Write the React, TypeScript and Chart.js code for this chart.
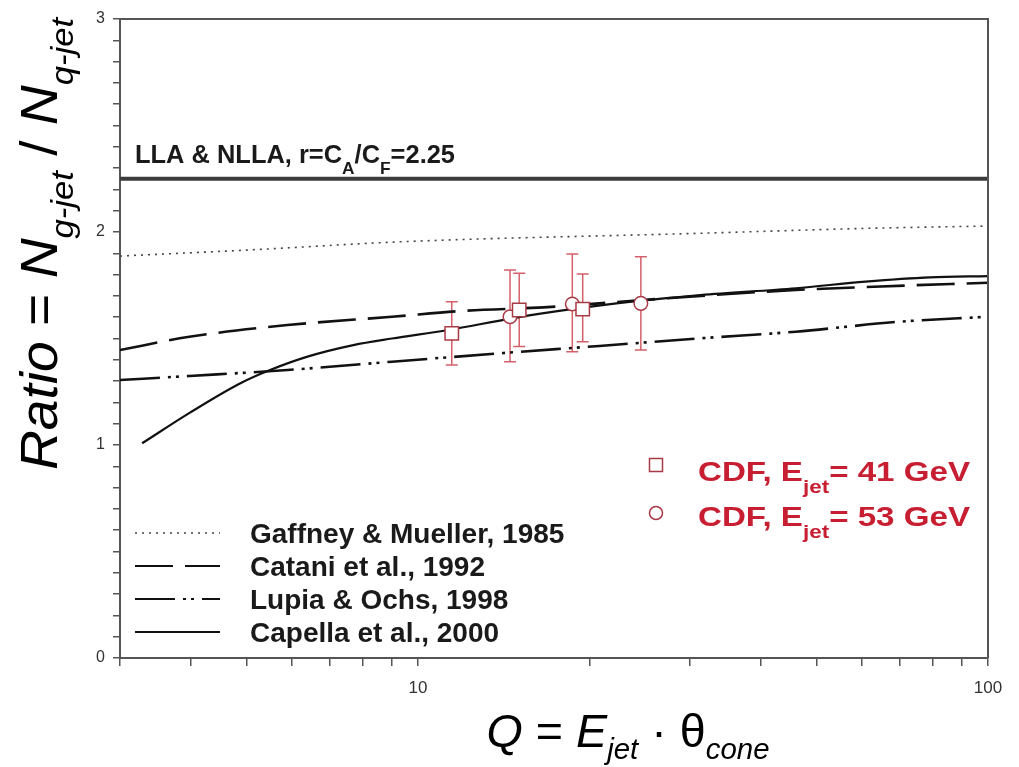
import React, { useEffect, useRef } from "react";
import { Chart, registerables } from "chart.js";
Chart.register(...registerables);

// ---- axis ticks ----
const xTickValues = [3, 4, 5, 6, 7, 8, 9, 10, 20, 30, 40, 50, 60, 70, 80, 90, 100];
const xTickLabels = ["10", "100"];
const yTickLabels = ["0", "1", "2", "3"];

// ---- theory curves (Q, ratio) ----
const llaQ = [3, 100];
const llaR = [2.25, 2.25];

const gaffneyQ = [3, 5, 9.5, 31.3, 61, 100];
const gaffneyR = [1.887, 1.915, 1.955, 1.994, 2.017, 2.028];

const cataniQ = [3, 3.97, 5.9, 9.0, 12.2, 16.6, 20.8, 27.4, 46, 63, 100];
const cataniR = [1.446, 1.508, 1.563, 1.602, 1.631, 1.646, 1.665, 1.689, 1.728, 1.743, 1.762];

const lupiaQ = [3, 3.97, 5.9, 9.0, 14.0, 20.8, 31.3, 46, 70, 100];
const lupiaR = [1.305, 1.324, 1.352, 1.391, 1.431, 1.465, 1.501, 1.532, 1.579, 1.602];

const capellaQ = [3.28, 3.98, 4.88, 5.5, 6.4, 7.7, 9.0, 11.3, 14.7, 18.2, 23.7, 31.3, 46, 61, 79, 100];
const capellaR = [1.008, 1.152, 1.29, 1.352, 1.415, 1.469, 1.5, 1.54, 1.596, 1.634, 1.673, 1.704, 1.736, 1.767, 1.787, 1.793];

const theoryNames = ["Gaffney & Mueller, 1985", "Catani et al., 1992", "Lupia & Ochs, 1998", "Capella et al., 2000"];

// ---- CDF data ----
const cdf41Q = [11.46, 15.05, 19.45];
const cdf41R = [1.524, 1.634, 1.638];
const cdf41Hi = [1.673, 1.806, 1.803];
const cdf41Lo = [1.376, 1.462, 1.485];

const cdf53Q = [14.5, 18.65, 24.6];
const cdf53R = [1.602, 1.662, 1.665];
const cdf53Hi = [1.822, 1.897, 1.884];
const cdf53Lo = [1.391, 1.438, 1.446];

const cdfLabels = ["= 41 GeV", "= 53 GeV"];

const pts = (xs: number[], ys: number[]) => xs.map((x, i) => ({ x, y: ys[i] }));

const FAM = '"Liberation Sans", Arial, Helvetica, sans-serif';
const RED = "#c81e32";
const MARK = "#a83a46";
const BAR = "#d4606a";

type Seg = { t: string; f: string; dy?: number };

function drawRich(ctx: CanvasRenderingContext2D, segs: Seg[], x: number, y: number, align: "left" | "center", width?: number) {
  const widths = segs.map((s) => {
    ctx.font = s.f;
    return ctx.measureText(s.t).width;
  });
  const total = widths.reduce((a, b) => a + b, 0);
  const sx = width ? width / total : 1;
  ctx.save();
  ctx.translate(x, y);
  ctx.scale(sx, 1);
  ctx.textBaseline = "alphabetic";
  ctx.textAlign = "left";
  let cx = align === "center" ? -total / 2 : 0;
  segs.forEach((s, i) => {
    ctx.font = s.f;
    ctx.fillText(s.t, cx, s.dy || 0);
    cx += widths[i];
  });
  ctx.restore();
}

const errorBarPlugin = {
  id: "errorBars",
  beforeDatasetsDraw(chart: any) {
    const ctx = chart.ctx as CanvasRenderingContext2D;
    const xs = chart.scales.x;
    const ys = chart.scales.y;
    const sets = [
      [cdf41Q, cdf41Lo, cdf41Hi],
      [cdf53Q, cdf53Lo, cdf53Hi],
    ];
    ctx.save();
    ctx.strokeStyle = BAR;
    ctx.lineWidth = 1.5;
    sets.forEach(([q, lo, hi]) => {
      q.forEach((qv, i) => {
        const px = xs.getPixelForValue(qv);
        const p1 = ys.getPixelForValue(lo[i]);
        const p2 = ys.getPixelForValue(hi[i]);
        ctx.beginPath();
        ctx.moveTo(px, p1);
        ctx.lineTo(px, p2);
        ctx.moveTo(px - 6, p1);
        ctx.lineTo(px + 6, p1);
        ctx.moveTo(px - 6, p2);
        ctx.lineTo(px + 6, p2);
        ctx.stroke();
      });
    });
    ctx.restore();
  },
};

const decorPlugin = {
  id: "decor",
  afterDraw(chart: any) {
    const ctx = chart.ctx as CanvasRenderingContext2D;
    const { left, right, top, bottom } = chart.chartArea;
    ctx.save();
    // frame
    ctx.strokeStyle = "#555";
    ctx.lineWidth = 2;
    ctx.beginPath();
    ctx.moveTo(left, top);
    ctx.lineTo(right, top);
    ctx.lineTo(right, bottom);
    ctx.stroke();

    // LLA label
    ctx.fillStyle = "#1a1a1a";
    const B25 = `bold 25px ${FAM}`;
    const B17 = `bold 17px ${FAM}`;
    drawRich(ctx, [
      { t: "LLA & NLLA, r=C", f: B25 },
      { t: "A", f: B17, dy: 11 },
      { t: "/C", f: B25 },
      { t: "F", f: B17, dy: 11 },
      { t: "=2.25", f: B25 },
    ], 135, 163, "left", 320);

    // theory legend
    const theoryIdx = [1, 2, 3, 4];
    const B28 = `bold 28px ${FAM}`;
    theoryNames.forEach((name, i) => {
      const ds = chart.data.datasets[theoryIdx[i]];
      const base = 543 + i * 33;
      const ly = base - 10;
      ctx.save();
      ctx.strokeStyle = ds.borderColor;
      ctx.lineWidth = Math.min(ds.borderWidth, 2);
      ctx.setLineDash(ds.borderDash || []);
      ctx.beginPath();
      ctx.moveTo(135, ly);
      ctx.lineTo(220, ly);
      ctx.stroke();
      ctx.restore();
      ctx.fillStyle = "#1a1a1a";
      ctx.font = B28;
      ctx.textAlign = "left";
      ctx.textBaseline = "alphabetic";
      ctx.fillText(name, 250, base);
    });

    // CDF legend
    const B28r = `bold 28px ${FAM}`;
    const B19 = `bold 19px ${FAM}`;
    ctx.strokeStyle = MARK;
    ctx.lineWidth = 1.5;
    ctx.fillStyle = "#fff";
    ctx.beginPath();
    ctx.rect(649.5, 458.5, 13, 13);
    ctx.fill();
    ctx.stroke();
    ctx.beginPath();
    ctx.arc(656, 513, 6.5, 0, Math.PI * 2);
    ctx.fill();
    ctx.stroke();
    ctx.fillStyle = RED;
    [481, 526].forEach((base, i) => {
      drawRich(ctx, [
        { t: "CDF, E", f: B28r },
        { t: "jet", f: B19, dy: 12 },
        { t: cdfLabels[i], f: B28r },
      ], 698, base, "left", 272);
    });

    // axis titles
    ctx.fillStyle = "#000";
    const I46 = `italic 46px ${FAM}`;
    const R46 = `46px ${FAM}`;
    const I29 = `italic 29px ${FAM}`;
    drawRich(ctx, [
      { t: "Q", f: I46 },
      { t: " = ", f: R46 },
      { t: "E", f: I46 },
      { t: "jet", f: I29, dy: 12 },
      { t: " · ", f: R46 },
      { t: "θ", f: R46 },
      { t: "cone", f: I29, dy: 12 },
    ], 628, 747, "center", 283);

    const I51 = `italic 51px ${FAM}`;
    const R51 = `51px ${FAM}`;
    const I32 = `italic 32px ${FAM}`;
    ctx.save();
    ctx.translate(57, 244);
    ctx.rotate(-Math.PI / 2);
    drawRich(ctx, [
      { t: "Ratio", f: I51 },
      { t: " = ", f: R51 },
      { t: "N", f: I51 },
      { t: "g-jet", f: I32, dy: 16 },
      { t: " / ", f: R51 },
      { t: "N", f: I51 },
      { t: "q-jet", f: I32, dy: 16 },
    ], 0, 0, "center", 452);
    ctx.restore();
    ctx.restore();
  },
};

export default function App() {
  const ref = useRef<HTMLCanvasElement | null>(null);
  useEffect(() => {
    if (!ref.current) return;
    const chart = new Chart(ref.current, {
      type: "line",
      data: {
        datasets: [
          { label: "LLA & NLLA", data: pts(llaQ, llaR), borderColor: "#3c3c3c", borderWidth: 4, pointRadius: 0, order: 2 } as any,
          { label: theoryNames[0], data: pts(gaffneyQ, gaffneyR), borderColor: "#444", borderWidth: 1.6, borderDash: [2, 5], pointRadius: 0, cubicInterpolationMode: "monotone", order: 2 },
          { label: theoryNames[1], data: pts(cataniQ, cataniR), borderColor: "#111", borderWidth: 2.6, borderDash: [38, 12], pointRadius: 0, cubicInterpolationMode: "monotone", order: 2 },
          { label: theoryNames[2], data: pts(lupiaQ, lupiaR), borderColor: "#111", borderWidth: 2.6, borderDash: [40, 8, 3, 5, 3, 8], pointRadius: 0, cubicInterpolationMode: "monotone", order: 2 },
          { label: theoryNames[3], data: pts(capellaQ, capellaR), borderColor: "#111", borderWidth: 2.2, pointRadius: 0, cubicInterpolationMode: "monotone", order: 2 },
          { label: "CDF 41", data: pts(cdf41Q, cdf41R), showLine: false, pointStyle: "rect", pointRadius: 9.5, pointBackgroundColor: "#fff", pointBorderColor: MARK, pointBorderWidth: 1.5, order: 0 },
          { label: "CDF 53", data: pts(cdf53Q, cdf53R), showLine: false, pointStyle: "circle", pointRadius: 6.8, pointBackgroundColor: "#fff", pointBorderColor: MARK, pointBorderWidth: 1.5, order: 0 },
        ] as any,
      },
      options: {
        responsive: false,
        animation: false,
        parsing: true as any,
        layout: { padding: { top: 19, right: 31, left: 0, bottom: 0 } },
        plugins: { legend: { display: false }, tooltip: { enabled: false }, title: { display: false } },
        scales: {
          x: {
            type: "logarithmic",
            min: 3,
            max: 100,
            afterBuildTicks: (s: any) => {
              s.ticks = xTickValues.map((v) => ({ value: v }));
            },
            afterFit: (s: any) => {
              s.height = 109;
            },
            ticks: {
              autoSkip: false,
              maxRotation: 0,
              padding: 12,
              color: "#333",
              font: { family: FAM, size: 17 },
              callback: (v: any) => (xTickLabels.includes(String(v)) ? String(v) : ""),
            },
            grid: { drawOnChartArea: false, drawTicks: true, tickLength: 8, color: "#555", lineWidth: 1.5 },
            border: { display: true, color: "#555", width: 2 },
          } as any,
          y: {
            min: 0,
            max: 3,
            afterFit: (s: any) => {
              s.width = 120;
            },
            ticks: {
              stepSize: 0.1,
              autoSkip: false,
              padding: 8,
              color: "#333",
              font: { family: FAM, size: 16 },
              callback: (v: any) => {
                const r = Math.round(Number(v));
                return Math.abs(Number(v) - r) < 1e-6 && yTickLabels.includes(String(r)) ? String(r) : "";
              },
            },
            grid: { drawOnChartArea: false, drawTicks: true, tickLength: 7, color: "#555", lineWidth: 1.5 },
            border: { display: true, color: "#555", width: 2 },
          } as any,
        },
      },
      plugins: [errorBarPlugin, decorPlugin],
    });
    return () => chart.destroy();
  }, []);
  return (
    <canvas
      ref={ref}
      width={1019}
      height={767}
      style={{ position: "absolute", left: 0, top: 0, background: "#fff" }}
    />
  );
}
